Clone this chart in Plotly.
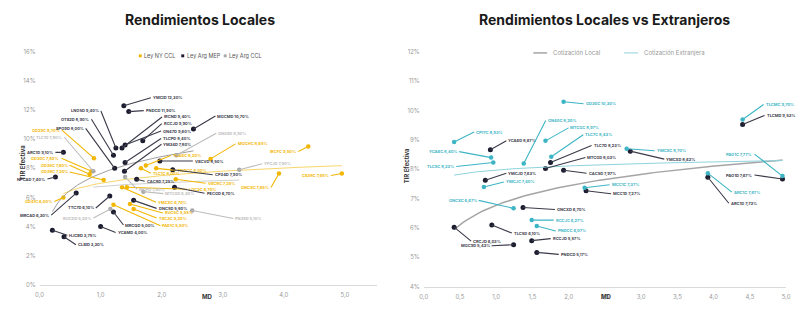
import numpy as np
import plotly.graph_objects as go

# ---------------- DATA : left chart (Rendimientos Locales) ----------------
ny_names = ["GD29C", "GD30C", "GD35C", "GD38C", "GD41C", "YCA6C", "PNDCC", "TLC1C", "MGCHC",
            "IRCFC", "GNCXC", "CS38C", "YMCXC", "PAE1C", "RUC5C", "TSC3C", "VSCRC", "LOC3C"]
ny_md = [0.89, 0.85, 0.82, 1.05, 0.39, 1.74, 1.91, 1.66, 2.80, 4.40, 3.92, 4.95, 1.35, 1.21, 1.48, 1.54, 2.23, 1.43]
ny_tir = [8.70, 7.80, 7.60, 7.20, 6.00, 8.20, 8.00, 8.00, 8.65, 9.50, 7.65, 7.65, 6.70, 5.50, 5.55, 5.20, 7.25, 6.70]
ny_dx = [-32, -30, -20, -34, -9, 25, 20, 10, 25, -10, -8, -11, 34, 47, 33, 23, 30, 60]
ny_dy = [-28, -13, -9, -8, 4, -10, 2, 5, -15, 5, 14, 2, 15, 21, 9, 9, 4, 2]

mep_names = ["YMCID", "PNDCD", "MGCMD", "LNO5D", "OTS2D", "SPO9D", "IRCND", "RCCJD", "GN47D",
             "TLCPD", "YM34D", "VSCVD", "CP34D", "ARC1D", "NPCAD", "MRCAD", "TTC7D", "CAC8D",
             "PECGD", "DNC5D", "MRCQD", "YCAMD", "HJCBD", "CLSID"]
mep_md = [1.38, 1.46, 2.52, 1.25, 1.21, 1.23, 1.35, 1.69, 1.40, 1.40, 1.39, 1.97, 2.18, 0.39,
          0.26, 0.60, 1.15, 1.59, 2.21, 1.54, 1.21, 1.00, 0.21, 0.40]
mep_tir = [12.30, 11.90, 10.70, 9.40, 8.90, 8.00, 9.40, 9.90, 9.60, 8.40, 7.80, 8.50, 7.90, 9.10,
           7.40, 6.30, 6.10, 7.25, 6.70, 5.80, 5.00, 4.00, 3.75, 3.30]
mep_dx = [27, 15, 22, -15, -22, -29, 40, 19, 36, 36, 37, 33, 40, -8, -8, -25, -14, 8, 30, 23, 10, 15, 15, 12]
mep_dy = [-8, -1, -13, -37, -36, -40, -31, -17, -14, -24, -27, 0, 5, 0, 2, 22, 12, 2, 6, 8, 13, 6, 5, 8]

ccl_names = ["TLC1D", "GN49D", "YFCJD", "PN35D", "IRCPD", "MTCGD", "RUCDD"]
ccl_md = [0.88, 2.24, 3.27, 2.50, 1.40, 1.70, 1.16]
ccl_tir = [7.80, 8.90, 7.90, 5.10, 7.40, 6.40, 5.20]
ccl_dx = [-29, 40, 23, 41, 12, 20, -17]
ccl_dy = [-34, -22, -6, 8, 12, 2, 9]

# ---------------- DATA : right chart (Locales vs Extranjeros) ----------------
loc_names = ["YCA6D", "TLC7D", "MTCGD", "CAC5D", "YMCXD", "TLCMD", "PAO1D", "ARC1D", "YMCJD",
             "MCC1D", "GNCXD", "CRCJD", "TLC5D", "MGC9D", "RCCJD", "PNDCD"]
loc_md = [0.92, 1.75, 1.68, 1.93, 2.85, 4.40, 4.95, 3.92, 0.85, 2.24, 1.37, 0.42, 0.94, 1.24, 1.49, 1.56]
loc_tir = [8.67, 8.23, 8.03, 7.97, 8.62, 9.53, 7.67, 7.73, 7.63, 7.27, 6.70, 6.03, 6.10, 5.43, 5.57, 5.17]
loc_dx = [16, 41, 40, 23, 34, 22, -28, 21, 21, 25, 32, 17, 20, -22, 19, 22]
loc_dy = [-9, -17, -11, 3, 8, -9, -4, 26, -7, 3, 2, 14, 8, 1, -2, 2]

ext_names = ["GD30C", "CP17C", "YCA6C", "TLC5C", "GN40C", "MTCGC", "TLC7C", "YMCXC", "TLCMC",
             "PAO1C", "ARC1C", "YMCJC", "MCC1C", "GNCXC", "RCCJC", "PNDCC"]
ext_md = [1.93, 0.42, 0.93, 0.96, 1.38, 1.68, 1.76, 2.80, 4.40, 4.95, 3.92, 0.83, 2.22, 1.24, 1.49, 1.56]
ext_tir = [10.30, 8.93, 8.40, 8.23, 8.20, 8.97, 8.43, 8.70, 9.70, 7.77, 7.87, 7.40, 7.37, 6.67, 6.27, 6.07]
ext_dx = [20, 20, -32, -37, 22, 23, 32, 28, 21, -28, 24, 20, 25, -35, 22, 19]
ext_dy = [2, -10, -6, 4, -43, -13, -22, 2, -15, -22, 19, -5, -3, -8, 0, 5]

left_yticks = [0, 2, 4, 6, 8, 10, 12, 14, 16]
left_xticks = [0, 1, 2, 3, 4, 5]
right_yticks = [4, 5, 6, 7, 8, 9, 10, 11, 12]
right_xticks = [0, 0.5, 1, 1.5, 2, 2.5, 3, 3.5, 4, 4.5, 5]

# ---------------- STYLE ----------------
YEL = "#F2B705"
NAVY = "#1C1C30"
GRAY = "#A8A8A8"
CYAN = "#3DB5C5"
FONT = "Inter"
W, H = 800, 322

fig = go.Figure()


def trend(md, tir):
    b, a = np.polyfit(np.log(md), tir, 1)
    xs = np.linspace(min(md), max(md), 80)
    return xs, a + b * np.log(xs)


annotations = []
shapes = []


def add_series(names, md, tir, dx, dy, color, name, xa, ya, lab_color, msize, tcolor, twidth):
    xs, ys = trend(md, tir)
    fig.add_trace(go.Scatter(x=xs, y=ys, mode="lines", xaxis=xa, yaxis=ya,
                             line=dict(color=tcolor, width=twidth), name=name + " (tendencia)",
                             showlegend=False, hoverinfo="skip"))
    fig.add_trace(go.Scatter(x=md, y=tir, mode="markers", xaxis=xa, yaxis=ya, name=name,
                             marker=dict(color=color, size=msize, symbol="circle"), showlegend=False))
    for n, x, y, ox, oy in zip(names, md, tir, dx, dy):
        txt = f"{n} {y:.2f}%".replace(".", ",")
        annotations.append(dict(
            x=x, y=y, xref=xa, yref=ya, text=f"<b>{txt}</b>", showarrow=True, arrowhead=0,
            arrowwidth=1.1, arrowcolor=lab_color, ax=ox, ay=oy, standoff=0,
            xanchor="left" if ox >= 0 else "right", yanchor="middle",
            font=dict(size=4, color=lab_color, family=FONT)))


add_series(ny_names, ny_md, ny_tir, ny_dx, ny_dy, YEL, "Ley NY CCL", "x", "y", YEL, 4.5, "#F6D56A", 1)
add_series(mep_names, mep_md, mep_tir, mep_dx, mep_dy, NAVY, "Ley Arg MEP", "x", "y", "#3A3A4A", 5, "#9E9E9E", 1)
add_series(ccl_names, ccl_md, ccl_tir, ccl_dx, ccl_dy, GRAY, "Ley Arg CCL", "x", "y", "#BDBDBD", 4.5, "#D0D0D0", 1)
add_series(loc_names, loc_md, loc_tir, loc_dx, loc_dy, NAVY, "Cotización Local", "x2", "y2",
           "#3A3A4A", 5, "#A5A5A5", 1.5)
add_series(ext_names, ext_md, ext_tir, ext_dx, ext_dy, CYAN, "Cotización Extranjera", "x2", "y2",
           CYAN, 4.5, "#8ED3DD", 1)

title_font = dict(family=FONT, size=14, color="#1a1a1a")
small_bold = dict(family=FONT, size=6, color="#333")


def paper_text(text, px, py, font, angle=0, xanchor="center"):
    return dict(text=text, x=px / W, y=1 - py / H, xref="paper", yref="paper", showarrow=False,
                xanchor=xanchor, yanchor="middle", textangle=angle, font=font)


annotations += [
    paper_text("<b>Rendimientos Locales</b>", 197, 16, title_font),
    paper_text("<b>Rendimientos Locales vs Extranjeros</b>", 607, 16, title_font),
    paper_text("<b>TIR Efectiva</b>", 18, 162, small_bold, -90),
    paper_text("<b>TIR Efectiva</b>", 407, 165, small_bold, -90),
    paper_text("<b>MD</b>", 205, 299, small_bold),
    paper_text("<b>MD</b>", 609, 299, small_bold),
]

# ---- custom compact legends ----
leg_font_l = dict(family=FONT, size=5.5, color="#555")
for label, col, px in [("Ley NY CCL", YEL, 137), ("Ley Arg MEP", NAVY, 180), ("Ley Arg CCL", GRAY, 223)]:
    shapes.append(dict(type="rect", xref="paper", yref="paper", x0=(px - 1.5) / W, x1=(px + 1.5) / W,
                       y0=1 - 54.5 / H, y1=1 - 51.5 / H, fillcolor=col, line=dict(width=0)))
    annotations.append(paper_text(label, px + 2, 53, leg_font_l, xanchor="left"))

leg_font_r = dict(family=FONT, size=6, color="#999")
for label, col, px, wdt in [("Cotización Local", "#A5A5A5", 535, 1.5), ("Cotización Extranjera", "#8ED3DD", 627, 1)]:
    shapes.append(dict(type="line", xref="paper", yref="paper", x0=px / W, x1=(px + 14) / W,
                       y0=1 - 50 / H, y1=1 - 50 / H, line=dict(color=col, width=wdt)))
    annotations.append(paper_text(label, px + 18, 50, leg_font_r, xanchor="left"))

tickfont = dict(family=FONT, size=6, color="#9a9a9a")
axis_common = dict(showgrid=False, zeroline=False, ticks="", tickfont=tickfont, fixedrange=True)

fig.update_layout(
    width=W, height=H, autosize=False,
    margin=dict(l=0, r=0, t=0, b=0),
    paper_bgcolor="white", plot_bgcolor="white",
    separators=",.",
    font=dict(family=FONT),
    showlegend=False,
    xaxis=dict(domain=[35 / W, 377 / W], range=[0, 5.53], tickvals=left_xticks,
               ticktext=[f"{v:.1f}".replace(".", ",") for v in left_xticks], ticklabelstandoff=4,
               showline=True, linecolor="#d9d9d9", linewidth=1, anchor="y", **axis_common),
    yaxis=dict(domain=[1 - 287 / H, 1 - 49 / H], range=[0, 16], tickvals=left_yticks,
               ticktext=[f"{v}%" for v in left_yticks], ticklabelstandoff=3,
               showline=False, anchor="x", **axis_common),
    xaxis2=dict(domain=[424 / W, 791 / W], range=[0, 5.0], tickvals=right_xticks,
                ticktext=[f"{v:.1f}".replace(".", ",") for v in right_xticks], ticklabelstandoff=4,
                showline=True, linecolor="#d9d9d9", linewidth=1, anchor="y2", **axis_common),
    yaxis2=dict(domain=[1 - 289 / H, 1 - 49 / H], range=[4, 12], tickvals=right_yticks,
                ticktext=[f"{v}%" for v in right_yticks], ticklabelstandoff=3,
                showline=False, anchor="x2", **axis_common),
    annotations=annotations,
    shapes=shapes,
)

fig.write_html("out.html")
